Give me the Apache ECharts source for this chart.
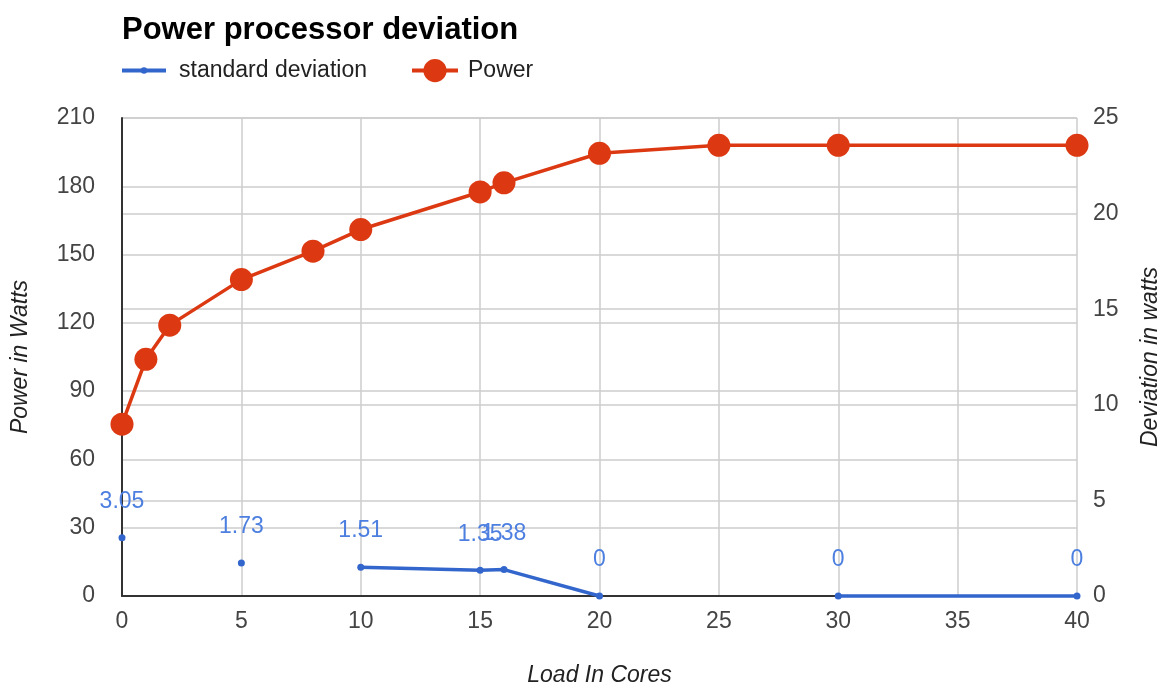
<!DOCTYPE html>
<html>
<head>
<meta charset="utf-8">
<script src="https://cdn.jsdelivr.net/npm/echarts@6/dist/echarts.min.js"></script>
<style>
  html, body { margin: 0; padding: 0; background: #fff; }
  #chart { width: 1161px; height: 684px; }
</style>
</head>
<body>
<div id="chart"></div>
<script>
// Load in cores (x) with measured power and its standard deviation
const loads = [0, 1, 2, 5, 8, 10, 15, 16, 20, 25, 30, 40];
const power = [75.5, 104, 119, 139, 151.5, 161, 177.5, 181.5, 194.5, 198, 198, 198];
// '-' marks loads where no deviation was recorded (breaks the line)
const deviation = [3.05, '-', '-', 1.73, '-', 1.51, 1.35, 1.38, 0, '-', 0, 0];

const xTicks = { min: 0, max: 40, interval: 5 };
const powerTicks = { min: 0, max: 210, interval: 30 };
const devTicks = { min: 0, max: 25, interval: 5 };

const FONT = 'Arial, "Liberation Sans", Helvetica, sans-serif';
const BLUE = '#3366cc';
const RED = '#dc3912';
const LABEL_SIZE = 23;

const pair = (vals) => loads.map((x, i) => [x, vals[i]]);

const chart = echarts.init(document.getElementById('chart'), null, { renderer: 'canvas' });

chart.setOption({
  animation: false,
  backgroundColor: '#ffffff',
  title: {
    text: 'Power processor deviation',
    left: 117,
    top: 10,
    textStyle: { fontFamily: FONT, fontSize: 31, fontWeight: 'bold', color: '#000' }
  },
  legend: [
    {
      data: ['standard deviation'],
      left: 115,
      top: 54,
      itemWidth: 44,
      itemHeight: 8,
      lineStyle: { width: 4 },
      textStyle: { fontFamily: FONT, fontSize: LABEL_SIZE, color: '#222', padding: [0, 0, 0, 8] }
    },
    {
      data: ['Power'],
      left: 405,
      top: 54,
      itemWidth: 46,
      itemHeight: 29,
      lineStyle: { width: 4 },
      textStyle: { fontFamily: FONT, fontSize: LABEL_SIZE, color: '#222', padding: [0, 0, 0, 5] }
    }
  ],
  grid: { left: 122, right: 84, top: 118, bottom: 88, outerBoundsMode: 'none', containLabel: false },
  xAxis: {
    type: 'value',
    min: xTicks.min, max: xTicks.max, interval: xTicks.interval,
    name: 'Load In Cores',
    nameLocation: 'middle',
    nameGap: 68,
    nameTextStyle: { fontFamily: FONT, fontSize: LABEL_SIZE, fontStyle: 'italic', color: '#222' },
    axisLine: { show: true, lineStyle: { color: '#333', width: 2 } },
    axisTick: { show: false },
    axisLabel: { fontFamily: FONT, fontSize: LABEL_SIZE, color: '#444', margin: 14 },
    splitLine: { show: true, lineStyle: { color: '#cccccc', width: 1.5 } }
  },
  yAxis: [
    {
      type: 'value',
      min: powerTicks.min, max: powerTicks.max, interval: powerTicks.interval,
      name: 'Power in Watts',
      nameLocation: 'middle',
      nameGap: 90,
      nameRotate: 90,
      nameTextStyle: { fontFamily: FONT, fontSize: LABEL_SIZE, fontStyle: 'italic', color: '#222' },
      axisLine: { show: true, onZero: false, lineStyle: { color: '#333', width: 2 } },
      axisTick: { show: false },
      axisLabel: { fontFamily: FONT, fontSize: LABEL_SIZE, color: '#444', margin: 27 },
      splitLine: { show: true, lineStyle: { color: '#cccccc', width: 1.5 } }
    },
    {
      type: 'value',
      min: devTicks.min, max: devTicks.max, interval: devTicks.interval,
      name: 'Deviation in watts',
      nameLocation: 'middle',
      nameGap: 62,
      nameRotate: 90,
      nameTextStyle: { fontFamily: FONT, fontSize: LABEL_SIZE, fontStyle: 'italic', color: '#222' },
      axisLine: { show: false },
      axisTick: { show: false },
      axisLabel: { fontFamily: FONT, fontSize: LABEL_SIZE, color: '#444', margin: 16 },
      splitLine: { show: true, lineStyle: { color: '#cccccc', width: 1.5 } }
    }
  ],
  series: [
    {
      name: 'standard deviation',
      type: 'line',
      yAxisIndex: 1,
      data: pair(deviation),
      connectNulls: false,
      clip: false,
      symbol: 'circle',
      symbolSize: 7,
      showAllSymbol: true,
      itemStyle: { color: BLUE },
      lineStyle: { color: BLUE, width: 3.5 },
      label: {
        show: true,
        position: 'top',
        distance: 21,
        fontFamily: FONT,
        fontSize: LABEL_SIZE,
        color: '#4d7fe0',
        formatter: (p) => String(p.value[1])
      },
      z: 2
    },
    {
      name: 'Power',
      type: 'line',
      yAxisIndex: 0,
      data: pair(power),
      clip: false,
      symbol: 'circle',
      symbolSize: 23,
      showAllSymbol: true,
      itemStyle: { color: RED },
      lineStyle: { color: RED, width: 3.5 },
      z: 3
    }
  ]
});
</script>
</body>
</html>
